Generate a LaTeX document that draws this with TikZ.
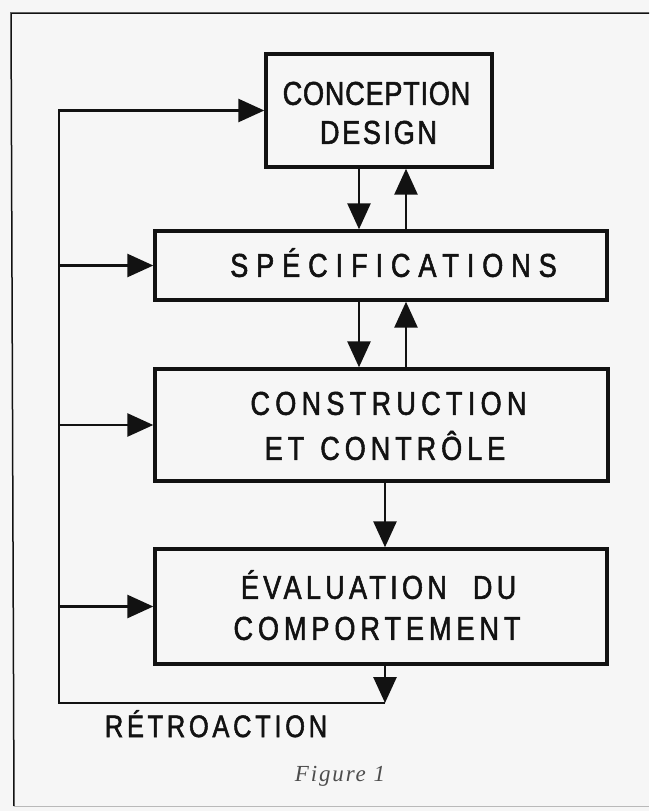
\documentclass[tikz,border=0pt]{standalone}
\usepackage{fontspec}
\setmainfont{Liberation Sans}
\newfontfamily\lett[FakeStretch=0.82,FakeBold=1.6]{Liberation Sans}
\newfontfamily\capfont{Liberation Serif}
\usetikzlibrary{arrows.meta}
\definecolor{paper}{RGB}{246,246,246}
\definecolor{ink}{RGB}{18,18,18}
\tikzset{
  box/.style={draw=ink, line width=3.4pt, rectangle, inner sep=0pt},
  conn/.style={draw=ink, line width=2.7pt},
  arr/.style={conn, -{Triangle[length=26pt,width=23pt]}},
  lbl/.style={inner sep=0pt, anchor=base, text=ink},
  big/.style={lbl, font=\lett\fontsize{33}{33}\selectfont},
}
\begin{document}
\begin{tikzpicture}[x=1pt,y=-1pt]
\fill[paper] (0,0) rectangle (649,811);
\useasboundingbox (0,0) rectangle (649,811);
% frame
\draw[line width=1.5pt, ink] (649,13) -- (11,13) -- (14,806);
\draw[line width=1pt, gray!55] (14,806) -- (649,806);
% boxes
\node[box, minimum width=226pt, minimum height=113pt] (concept) at (379,110.5) {};
\node[box, minimum width=452pt, minimum height=69pt] (spec) at (381,265.5) {};
\node[box, minimum width=453pt, minimum height=112pt] (constr) at (381.5,425) {};
\node[box, minimum width=452pt, minimum height=115pt] (eval) at (381,606.5) {};
% labels
\node[big] (t1) at (376.5,104.8) {\addfontfeature{LetterSpace=2.4}CONCEPTION};
\node[big] (t2) at (378.5,143.8) {\addfontfeature{LetterSpace=8}DESIGN};
\node[big] (t3) at (393.5,276.8) {\addfontfeature{LetterSpace=24}SPÉCIFICATIONS};
\node[big] (t4) at (388.5,414.8) {\addfontfeature{LetterSpace=16}CONSTRUCTION};
\node[big] (t5) at (385,459.8) {\addfontfeature{LetterSpace=15}ET\hspace{16pt}CONTRÔLE};
\node[big] (t6) at (378.6,598.8) {\addfontfeature{LetterSpace=13}ÉVALUATION\hspace{26pt}DU};
\node[big] (t7) at (377,639.8) {\addfontfeature{LetterSpace=15}COMPORTEMENT};
\node[lbl, font=\lett\fontsize{31}{31}\selectfont] (t8) at (216,737) {\addfontfeature{LetterSpace=12}RÉTROACTION};
\node[lbl, text=ink!75, font=\capfont\itshape\fontsize{23}{23}\selectfont] (t9) at (340,781) {\addfontfeature{LetterSpace=8}Figure 1};
% connector helpers
\coordinate (xl) at (359,0);
\coordinate (xr) at (406,0);
\coordinate (xm) at (385,0);
\coordinate (fb) at (59,703);
\coordinate (fbr) at (385,703);
% vertical connectors
\draw[arr] (concept.south -| xl) -- (spec.north -| xl);
\draw[arr] (spec.north -| xr) -- (concept.south -| xr);
\draw[arr] (spec.south -| xl) -- (constr.north -| xl);
\draw[arr] (constr.north -| xr) -- (spec.south -| xr);
\draw[arr] (constr.south -| xm) -- (eval.north -| xm);
\draw[arr] (eval.south -| fbr) -- (fbr);
% feedback loop
\draw[arr] (fbr) -- (fb) -- (fb |- concept.west) -- (concept.west);
\draw[arr] (fb |- spec.west) -- (spec.west);
\draw[arr] (fb |- constr.west) -- (constr.west);
\draw[arr] (fb |- eval.west) -- (eval.west);
\end{tikzpicture}
\end{document}
